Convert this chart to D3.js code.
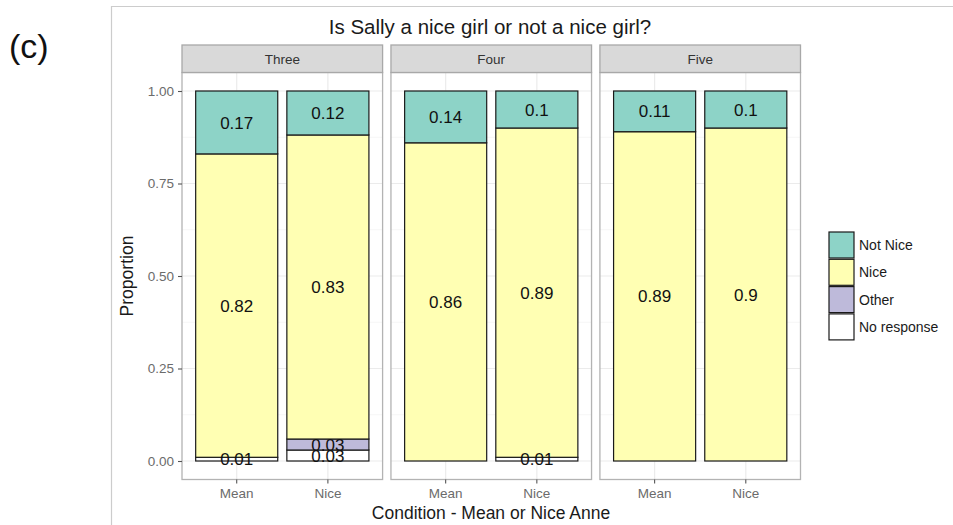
<!DOCTYPE html>
<html>
<head>
<meta charset="utf-8">
<script src="https://cdn.jsdelivr.net/npm/d3@7"></script>
<style>
  html, body { margin: 0; padding: 0; background: #fff; }
  svg { display: block; font-family: "Liberation Sans", Arial, sans-serif; }
</style>
</head>
<body>
<svg id="chart" width="953" height="525"></svg>
<script>
// Facets (age group) and the two conditions inside each facet
const groups = ["Three", "Four", "Five"];
const conditions = ["Mean", "Nice"];
// Response categories, stacked bottom to top
const responses = ["No response", "Other", "Nice", "Not Nice"];
// Proportions per bar, ordered Three-Mean, Three-Nice, Four-Mean, Four-Nice, Five-Mean, Five-Nice
const noResponse = [0.01, 0.03, 0, 0.01, 0, 0];
const other      = [0,    0.03, 0, 0,    0, 0];
const nice       = [0.82, 0.83, 0.86, 0.89, 0.89, 0.9];
const notNice    = [0.17, 0.12, 0.14, 0.1, 0.11, 0.1];
const yTicks = [0, 0.25, 0.5, 0.75, 1];
const legendOrder = ["Not Nice", "Nice", "Other", "No response"];

const colors = {
  "Not Nice": "#8dd3c7",
  "Nice": "#ffffb3",
  "Other": "#bebada",
  "No response": "#ffffff"
};

const rows = [];
groups.forEach((g, gi) => conditions.forEach((c, ci) => {
  const i = gi * conditions.length + ci;
  rows.push({
    group: g, condition: c,
    "No response": noResponse[i], "Other": other[i],
    "Nice": nice[i], "Not Nice": notNice[i]
  });
}));

const stacked = d3.stack().keys(responses).offset(d3.stackOffsetExpand)(rows);

const svg = d3.select("#chart");

// outer frame of the figure area
svg.append("line").attr("x1", 111.5).attr("x2", 111.5).attr("y1", 6).attr("y2", 525)
  .attr("stroke", "#cccccc").attr("stroke-width", 1.2);
svg.append("line").attr("x1", 111).attr("x2", 953).attr("y1", 6.5).attr("y2", 6.5)
  .attr("stroke", "#cccccc").attr("stroke-width", 1.2);

svg.append("text").attr("x", 9).attr("y", 58).attr("font-size", 34).attr("fill", "#111")
  .text("(c)");

svg.append("text").attr("x", 490).attr("y", 34).attr("text-anchor", "middle")
  .attr("font-size", 20.5).attr("fill", "#1a1a1a").text("Is Sally a nice girl or not a nice girl?");

const panelTop = 72.5, panelBottom = 479.5, stripTop = 45;
const facetX = d3.scaleBand().domain(groups).range([182, 800.5]).paddingInner(0.04);
const y = d3.scaleLinear().domain([-0.05, 1.05]).range([panelBottom, panelTop]);
const minorTicks = [0.125, 0.375, 0.625, 0.875];

groups.forEach((g, gi) => {
  const x0 = facetX(g), w = facetX.bandwidth();
  const x = d3.scaleBand().domain(conditions).range([x0, x0 + w])
    .paddingInner(0.1).paddingOuter(0.15);
  const p = svg.append("g");

  // grid
  p.selectAll(".minor").data(minorTicks).join("line")
    .attr("x1", x0).attr("x2", x0 + w).attr("y1", d => y(d)).attr("y2", d => y(d))
    .attr("stroke", "#f4f4f4").attr("stroke-width", 0.8);
  p.selectAll(".major").data(yTicks).join("line")
    .attr("x1", x0).attr("x2", x0 + w).attr("y1", d => y(d)).attr("y2", d => y(d))
    .attr("stroke", "#ebebeb").attr("stroke-width", 1.2);
  p.selectAll(".vmajor").data(conditions).join("line")
    .attr("x1", d => x(d) + x.bandwidth() / 2).attr("x2", d => x(d) + x.bandwidth() / 2)
    .attr("y1", panelTop).attr("y2", panelBottom)
    .attr("stroke", "#ebebeb").attr("stroke-width", 1.2);

  // stacked bars
  stacked.forEach(layer => {
    const key = layer.key;
    layer.forEach(seg => {
      const d = seg.data;
      if (d.group !== g || d[key] <= 0) return;
      p.append("rect")
        .attr("x", x(d.condition)).attr("width", x.bandwidth())
        .attr("y", y(seg[1])).attr("height", y(seg[0]) - y(seg[1]))
        .attr("fill", colors[key]).attr("stroke", "#1a1a1a").attr("stroke-width", 1.2);
    });
  });
  // value labels at the middle of each segment
  stacked.forEach(layer => {
    const key = layer.key;
    layer.forEach(seg => {
      const d = seg.data;
      if (d.group !== g || d[key] <= 0) return;
      p.append("text")
        .attr("x", x(d.condition) + x.bandwidth() / 2)
        .attr("y", y((seg[0] + seg[1]) / 2))
        .attr("dy", "0.36em").attr("text-anchor", "middle")
        .attr("font-size", 17).attr("fill", "#111")
        .text(String(d[key]));
    });
  });

  // panel border
  p.append("rect").attr("x", x0).attr("y", panelTop).attr("width", w)
    .attr("height", panelBottom - panelTop)
    .attr("fill", "none").attr("stroke", "#b3b3b3").attr("stroke-width", 1.3);
  // strip
  p.append("rect").attr("x", x0).attr("y", stripTop).attr("width", w)
    .attr("height", panelTop - stripTop)
    .attr("fill", "#d9d9d9").attr("stroke", "#a8a8a8").attr("stroke-width", 1.3);
  p.append("text").attr("x", x0 + w / 2).attr("y", (stripTop + panelTop) / 2)
    .attr("dy", "0.36em").attr("text-anchor", "middle")
    .attr("font-size", 13.5).attr("fill", "#333").text(g);

  // x axis
  const ax = p.append("g").attr("transform", `translate(0,${panelBottom})`)
    .call(d3.axisBottom(x).tickSize(4).tickPadding(5));
  ax.select(".domain").remove();
  ax.selectAll(".tick line").attr("stroke", "#555").attr("stroke-width", 1.1);
  ax.selectAll(".tick text").attr("font-size", 13.5).attr("fill", "#6b6b6b")
    .attr("font-family", "Liberation Sans, Arial, sans-serif");
});

// y axis
const ay = svg.append("g").attr("transform", `translate(182,0)`)
  .call(d3.axisLeft(y).tickValues(yTicks).tickFormat(d3.format(".2f")).tickSize(4).tickPadding(4));
ay.select(".domain").remove();
ay.selectAll(".tick line").attr("stroke", "#555").attr("stroke-width", 1.1);
ay.selectAll(".tick text").attr("font-size", 13.5).attr("fill", "#6b6b6b")
  .attr("font-family", "Liberation Sans, Arial, sans-serif");

svg.append("text").attr("transform", `translate(133,${(panelTop + panelBottom) / 2}) rotate(-90)`)
  .attr("text-anchor", "middle").attr("font-size", 17.5).attr("fill", "#1a1a1a").text("Proportion");

svg.append("text").attr("x", 491).attr("y", 519).attr("text-anchor", "middle")
  .attr("font-size", 17.5).attr("fill", "#1a1a1a").text("Condition - Mean or Nice Anne");

// legend
const key = 26;
const lg = svg.append("g").attr("transform", "translate(829,232)");
legendOrder.forEach((k, i) => {
  lg.append("rect").attr("x", 0).attr("y", i * (key + 1.3)).attr("width", key - 1).attr("height", key)
    .attr("fill", colors[k]).attr("stroke", "#1a1a1a").attr("stroke-width", 1.2);
  lg.append("text").attr("x", key + 4).attr("y", i * (key + 1.3) + key / 2)
    .attr("dy", "0.36em").attr("font-size", 14).attr("fill", "#1a1a1a").text(k);
});
</script>
</body>
</html>
